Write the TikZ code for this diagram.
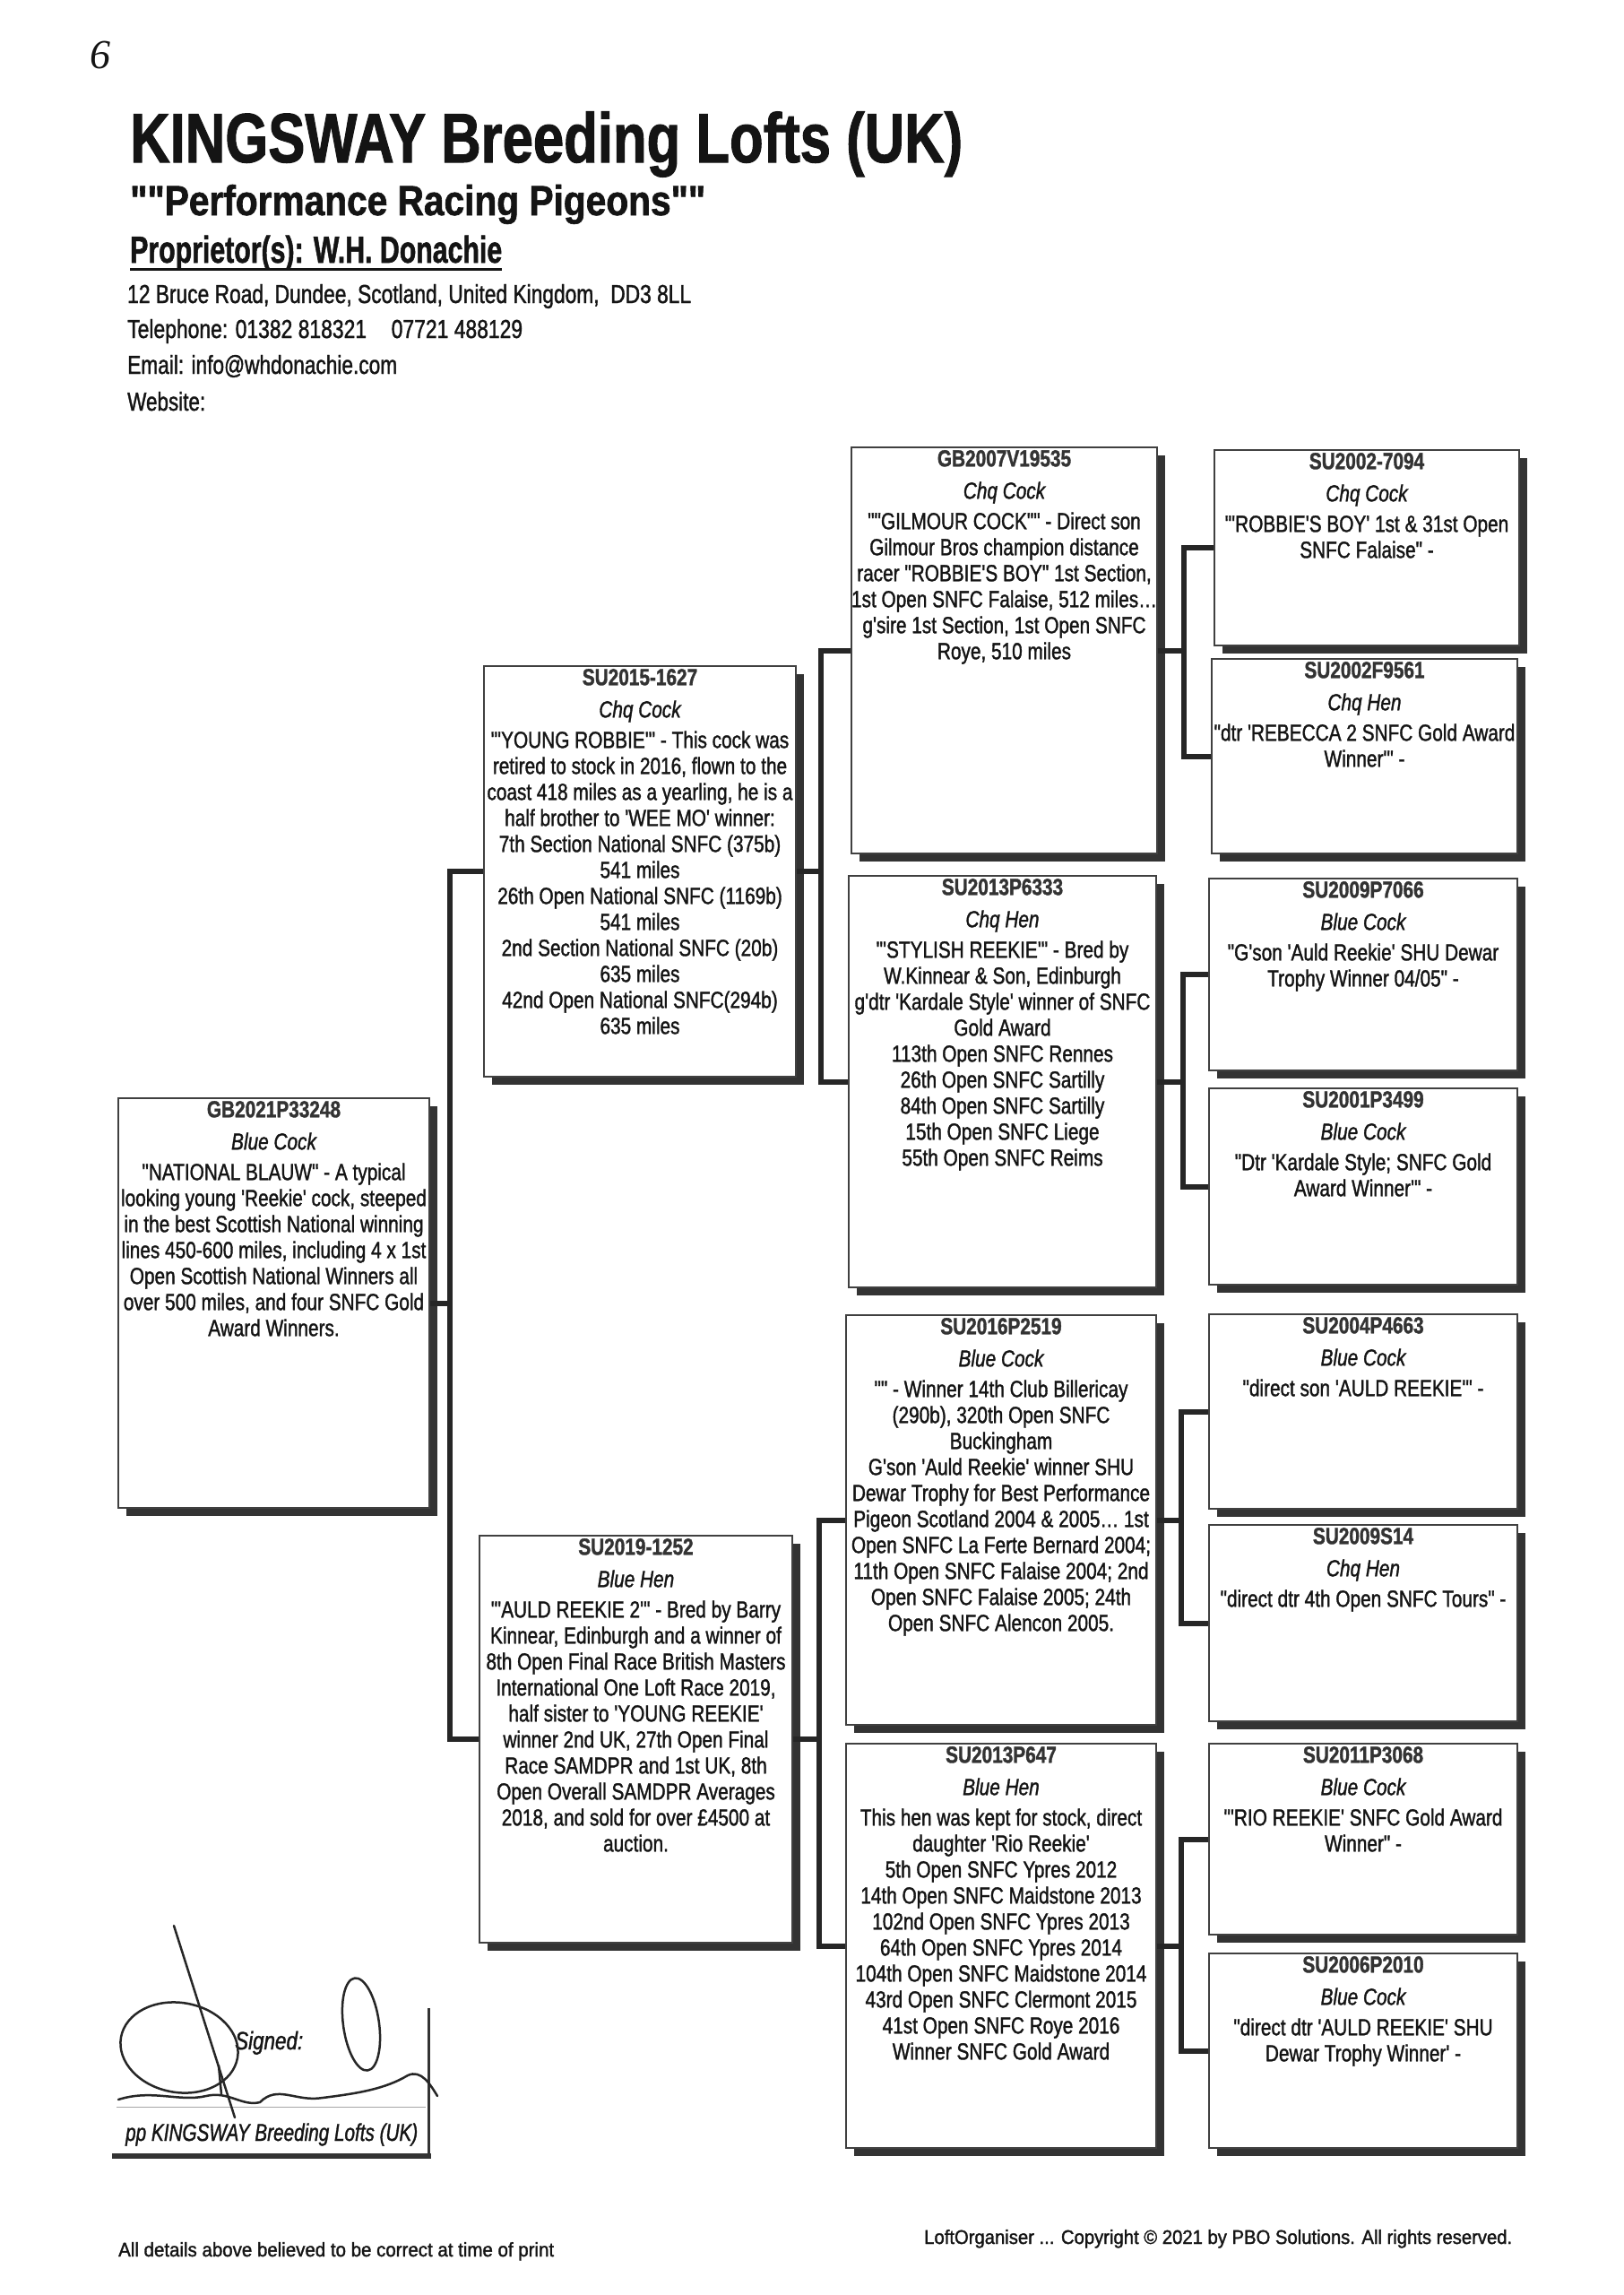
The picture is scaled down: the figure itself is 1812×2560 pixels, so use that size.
\documentclass[tikz,border=0pt]{standalone}
\usepackage{fontspec}
\setmainfont{Liberation Sans}[FakeStretch=0.8, FakeBold=1.3, Ligatures=TeXOff]
\newfontfamily\handfont{Liberation Serif}
\usepackage{graphicx}
\usetikzlibrary{shadows}
\definecolor{idgray}{HTML}{333333}
\definecolor{ink}{HTML}{141414}
\tikzset{
  pbox/.style={draw=black!75, line width=1.4pt, fill=white, inner sep=0pt,
    drop shadow={shadow xshift=9pt, shadow yshift=-9pt, opacity=1, fill=black!80}},
  ptext/.style={anchor=base, inner sep=0pt, font={\fontsize{26}{29}\selectfont}, text=ink},
  conn/.style={line width=6pt, draw=black!85},
  hdr/.style={anchor=base west, inner sep=0pt, text=ink},
  sig/.style={line width=2.5pt, draw=black!85, line cap=round, line join=round},
}
\newcommand\idf{\bfseries\color{idgray}}
\newcommand\pedbox[8]{%
  \node[pbox, minimum width={(#4-#2)*1pt}, minimum height={(#5-#3)*1pt}] (#1) at ({(#2+#4)/2},{(#3+#5)/2}) {};
  \node[ptext] (#1t) at ([yshift=-22pt]#1.north) {\begin{tabular}[t]{@{}c@{}}{\idf #6}\\[7pt]{\itshape #7}\\[5pt]#8\end{tabular}};%
}
\begin{document}
\begin{tikzpicture}[x=1pt, y=-1pt]
\fill[white] (0,0) rectangle (1812,2560);
\useasboundingbox (0,0) rectangle (1812,2560);

% header
\node[hdr] (six) at (100,76) {\handfont\itshape\fontsize{46}{46}\selectfont 6};
\node[hdr] (title) at (145,181) {\resizebox{929pt}{\height}{\fontsize{78}{80}\selectfont\bfseries KINGSWAY Breeding Lofts (UK)}};
\node[hdr] (subtitle) at (145,240) {\resizebox{642pt}{\height}{\fontsize{47}{50}\selectfont\bfseries ""Performance Racing Pigeons""}};
\node[hdr] (prop) at (145,293) {\resizebox{415pt}{\height}{\fontsize{42}{45}\selectfont\bfseries Proprietor(s): W.H. Donachie}};
\draw[line width=3pt, ink] ([yshift=-7pt]prop.base west) -- ([yshift=-7pt]prop.base east);
\node[hdr] (addr) at (142,338) {\resizebox{629pt}{\height}{\fontsize{29}{30}\selectfont 12 Bruce Road, Dundee, Scotland, United Kingdom,\ \ DD3 8LL}};
\node[hdr] (tel) at (142,377) {\resizebox{441pt}{\height}{\fontsize{29}{30}\selectfont Telephone: 01382 818321\hspace{28pt}07721 488129}};
\node[hdr] (mail) at (142,417) {\resizebox{301pt}{\height}{\fontsize{29}{30}\selectfont Email: info@whdonachie.com}};
\node[hdr] (web) at (142,458) {\resizebox{87pt}{\height}{\fontsize{29}{30}\selectfont Website:}};

% boxes
\pedbox{A}{132}{1225}{479}{1682}{GB2021P33248}{Blue Cock}{"NATIONAL BLAUW" - A typical\\looking young 'Reekie' cock, steeped\\in the best Scottish National winning\\lines 450-600 miles, including 4 x 1st\\Open Scottish National Winners all\\over 500 miles, and four SNFC Gold\\Award Winners.}
\pedbox{B}{540}{743}{888}{1201}{SU2015-1627}{Chq Cock}{"'YOUNG ROBBIE'" - This cock was\\retired to stock in 2016, flown to the\\coast 418 miles as a yearling, he is a\\half brother to 'WEE MO' winner:\\7th Section National SNFC (375b)\\541 miles\\26th Open National SNFC (1169b)\\541 miles\\2nd Section National SNFC (20b)\\635 miles\\42nd Open National SNFC(294b)\\635 miles}
\pedbox{C}{535}{1713}{884}{2167}{SU2019-1252}{Blue Hen}{"'AULD REEKIE 2'" - Bred by Barry\\Kinnear, Edinburgh and a winner of\\8th Open Final Race British Masters\\International One Loft Race 2019,\\half sister to 'YOUNG REEKIE'\\winner 2nd UK, 27th Open Final\\Race SAMDPR and 1st UK, 8th\\Open Overall SAMDPR Averages\\2018, and sold for over £4500 at\\auction.}
\pedbox{D}{950}{499}{1291}{952}{GB2007V19535}{Chq Cock}{""GILMOUR COCK"" - Direct son\\Gilmour Bros champion distance\\racer "ROBBIE'S BOY" 1st Section,\\1st Open SNFC Falaise, 512 miles…\\g'sire 1st Section, 1st Open SNFC\\Roye, 510 miles}
\pedbox{E}{947}{977}{1290}{1436}{SU2013P6333}{Chq Hen}{"'STYLISH REEKIE'" - Bred by\\W.Kinnear \& Son, Edinburgh\\g'dtr 'Kardale Style' winner of SNFC\\Gold Award\\113th Open SNFC Rennes\\26th Open SNFC Sartilly\\84th Open SNFC Sartilly\\15th Open SNFC Liege\\55th Open SNFC Reims}
\pedbox{F}{944}{1467}{1290}{1924}{SU2016P2519}{Blue Cock}{"" - Winner 14th Club Billericay\\(290b), 320th Open SNFC\\Buckingham\\G'son 'Auld Reekie' winner SHU\\Dewar Trophy for Best Performance\\Pigeon Scotland 2004 \& 2005… 1st\\Open SNFC La Ferte Bernard 2004;\\11th Open SNFC Falaise 2004; 2nd\\Open SNFC Falaise 2005; 24th\\Open SNFC Alencon 2005.}
\pedbox{G}{944}{1945}{1290}{2396}{SU2013P647}{Blue Hen}{This hen was kept for stock, direct\\daughter 'Rio Reekie'\\5th Open SNFC Ypres 2012\\14th Open SNFC Maidstone 2013\\102nd Open SNFC Ypres 2013\\64th Open SNFC Ypres 2014\\104th Open SNFC Maidstone 2014\\43rd Open SNFC Clermont 2015\\41st Open SNFC Roye 2016\\Winner SNFC Gold Award}
\pedbox{H}{1355}{502}{1695}{720}{SU2002-7094}{Chq Cock}{"'ROBBIE'S BOY' 1st \& 31st Open\\SNFC Falaise" -}
\pedbox{I}{1352}{735}{1693}{952}{SU2002F9561}{Chq Hen}{"dtr 'REBECCA 2 SNFC Gold Award\\Winner'" -}
\pedbox{J}{1349}{980}{1693}{1194}{SU2009P7066}{Blue Cock}{"G'son 'Auld Reekie' SHU Dewar\\Trophy Winner 04/05" -}
\pedbox{K}{1349}{1214}{1693}{1433}{SU2001P3499}{Blue Cock}{"Dtr 'Kardale Style; SNFC Gold\\Award Winner'" -}
\pedbox{L}{1349}{1466}{1693}{1683}{SU2004P4663}{Blue Cock}{"direct son 'AULD REEKIE'" -}
\pedbox{M}{1349}{1701}{1693}{1920}{SU2009S14}{Chq Hen}{"direct dtr 4th Open SNFC Tours" -}
\pedbox{N}{1349}{1945}{1693}{2158}{SU2011P3068}{Blue Cock}{"'RIO REEKIE' SNFC Gold Award\\Winner" -}
\pedbox{O}{1349}{2179}{1693}{2396}{SU2006P2010}{Blue Cock}{"direct dtr 'AULD REEKIE' SHU\\Dewar Trophy Winner' -}

% connectors
\coordinate (jA) at (502,1453.5);
\draw[conn] (A.east) -- (jA);
\draw[conn] (B.west) -| (jA) |- (C.west);
\coordinate (jB) at (916,972);
\draw[conn] (B.east) -- (jB);
\draw[conn] (D.west) -| (jB) |- (E.west);
\coordinate (jC) at (914,1940);
\draw[conn] (C.east) -- (jC);
\draw[conn] (F.west) -| (jC) |- (G.west);
\coordinate (jD) at (1321,725.5);
\draw[conn] (D.east) -- (jD);
\draw[conn] (H.west) -| (jD) |- (I.west);
\coordinate (jE) at (1320,1206.5);
\draw[conn] (E.east) -- (jE);
\draw[conn] (J.west) -| (jE) |- (K.west);
\coordinate (jF) at (1318,1695.5);
\draw[conn] (F.east) -- (jF);
\draw[conn] (L.west) -| (jF) |- (M.west);
\coordinate (jG) at (1318,2170.5);
\draw[conn] (G.east) -- (jG);
\draw[conn] (N.west) -| (jG) |- (O.west);

% signature block
\draw[line width=3pt, black!80] (478,2240) -- (478,2408);
\draw[line width=6pt, black!80] (125,2405) -- (481,2405);
\draw[line width=1pt, black!35] (130,2350) -- (475,2350);
\node[hdr] (signed) at (262,2286) {\itshape\fontsize{28}{28}\selectfont Signed:};
\node[hdr] (pp) at (140,2388) {\resizebox{326pt}{\height}{\itshape\fontsize{27}{27}\selectfont pp KINGSWAY Breeding Lofts (UK)}};
\draw[sig] (200,2284) ellipse [x radius=66, y radius=50, rotate=-10];
\draw[sig] (403,2258) ellipse [x radius=20, y radius=52, rotate=8];
\draw[sig] (194,2148) -- (262,2362);
\draw[sig] (244,2304) -- (247,2336);
\draw[sig] (132,2342) .. controls (170,2330) and (200,2345) .. (230,2338)
  .. controls (255,2332) and (270,2350) .. (290,2345)
  .. controls (310,2325) and (330,2345) .. (360,2340)
  .. controls (400,2335) and (430,2330) .. (455,2315)
  .. controls (470,2308) and (480,2325) .. (488,2338);

% footer
\node[hdr] (foot1) at (132,2517) {\resizebox{486pt}{\height}{\fontsize{22}{24}\selectfont All details above believed to be correct at time of print}};
\node[hdr] (foot2) at (1031,2503) {\resizebox{656pt}{\height}{\fontsize{22}{24}\selectfont LoftOrganiser ... Copyright © 2021 by PBO Solutions. All rights reserved.}};
\end{tikzpicture}
\end{document}
